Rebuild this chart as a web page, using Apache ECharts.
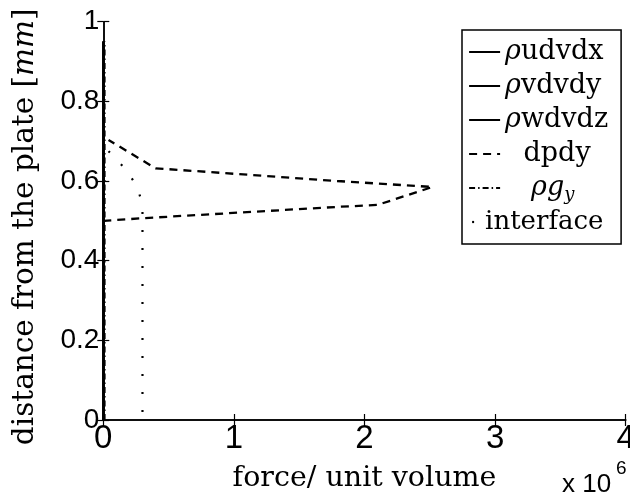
<!DOCTYPE html>
<html><head><meta charset="utf-8">
<script src="https://cdn.jsdelivr.net/npm/echarts@6/dist/echarts.min.js"></script>
<style>html,body{margin:0;padding:0;background:#fff}#c{width:630px;height:497px}</style>
</head><body><div id="c"></div>
<script>
// force per unit volume in units of 1e6, distance in mm
const xTicks = [0, 1, 2, 3, 4];
const yTicks = [0, 0.2, 0.4, 0.6, 0.8, 1];
const udvdxX = [0, 0];      const udvdxY = [0, 0.95];
const vdvdyX = [0, 0];      const vdvdyY = [0, 0.95];
const wdvdzX = [0, 0];      const wdvdzY = [0, 0.95];
const dpdyX = [0.00, 0.32, 1.79, 2.10, 2.52, 1.79, 0.40, 0.04];
const dpdyY = [0.500, 0.507, 0.535, 0.540, 0.585, 0.600, 0.632, 0.703];
const rhogX = [0.01, 0.01]; const rhogY = [0, 0.95];
const ifaceX = [0.04, 0.17, 0.26, 0.30, 0.30];
const ifaceY = [0.675, 0.630, 0.586, 0.540, 0.0];

const zip = (a, b) => a.map((v, i) => [v, b[i]]);
const SERIF = 'DejaVu Serif';
const SANS = 'Liberation Sans';

const chart = echarts.init(document.getElementById('c'), null, {renderer: 'canvas'});
const axisLine = {show: true, lineStyle: {color: '#000', width: 1.5}};
const tick = {show: true, inside: true, length: 6, lineStyle: {color: '#000', width: 1.2}};
const labelNames = {
  'ρudvdx': '{g|ρ}{r|udvdx}',
  'ρvdvdy': '{g|ρ}{r|vdvdy}',
  'ρwdvdz': '{g|ρ}{r|wdvdz}',
  'dpdy': '{c|dpdy}',
  'ρg_y': '{sp|}{g|ρg}{s|y}',
  'interface': '{it|interface}'
};
const mk = (name, x, y, ls) => ({
  name, type: 'line', data: zip(x, y), symbol: 'none', showSymbol: false,
  lineStyle: Object.assign({color: '#000', width: 2}, ls), itemStyle: {color: '#000'},
  animation: false, silent: true
});
chart.setOption({
  animation: false,
  backgroundColor: '#fff',
  grid: {left: 103.3, right: 4.3, top: 21.7, bottom: 77, containLabel: false, outerBoundsMode: 'none'},
  xAxis: [{
    type: 'value', min: xTicks[0], max: xTicks[xTicks.length - 1], interval: 1,
    axisLine, axisTick: tick, splitLine: {show: false},
    axisLabel: {fontFamily: SANS, fontSize: 33, color: '#000', margin: 2, showMaxLabel: true},
    name: 'force/ unit volume', nameLocation: 'middle', nameGap: 44,
    nameTextStyle: {fontFamily: SERIF, fontSize: 28.5, color: '#000'}
  }, {
    type: 'value', position: 'top', min: 0, max: 4, interval: 1,
    axisLine, axisTick: tick, axisLabel: {show: false}, splitLine: {show: false}
  }],
  yAxis: [{
    type: 'value', min: yTicks[0], max: yTicks[yTicks.length - 1], interval: 0.2,
    axisLine, axisTick: tick, splitLine: {show: false},
    axisLabel: {fontFamily: SANS, fontSize: 28, color: '#000', margin: 4},
    name: '{a|distance from the plate [}{b|mm}{a|]}', nameLocation: 'middle', nameGap: 63, nameRotate: 90,
    nameTextStyle: {padding: [0, 12, 0, 0], rich: {
      a: {fontFamily: SERIF, fontSize: 29.5, color: '#000'},
      b: {fontFamily: SERIF, fontSize: 29.5, fontStyle: 'italic', color: '#000'}
    }}
  }, {
    type: 'value', position: 'right', min: 0, max: 1, interval: 0.2,
    axisLine, axisTick: tick, axisLabel: {show: false}, splitLine: {show: false}
  }],
  legend: {
    orient: 'vertical', left: 462, top: 30,
    padding: [5, 12, 5, 6], itemGap: 0, itemWidth: 31, itemHeight: 14,
    backgroundColor: '#fff', borderColor: '#000', borderWidth: 1.5, borderRadius: 0,
    selectedMode: false,
    itemStyle: {opacity: 0, borderWidth: 0, color: 'rgba(0,0,0,0)'},
    data: [
      {name: 'ρudvdx'}, {name: 'ρvdvdy'}, {name: 'ρwdvdz'}, {name: 'dpdy'}, {name: 'ρg_y'},
      {name: 'interface', lineStyle: {type: [2, 40], dashOffset: -3, width: 2.2}}
    ],
    formatter: n => labelNames[n],
    textStyle: {color: '#000', lineHeight: 34, rich: {
      g: {fontFamily: SERIF, fontSize: 27, fontStyle: 'italic', color: '#000', lineHeight: 34},
      r: {fontFamily: SERIF, fontSize: 27, color: '#000', lineHeight: 34},
      c: {fontFamily: SERIF, fontSize: 27, color: '#000', width: 104, align: 'center', lineHeight: 34},
      s: {fontFamily: SERIF, fontSize: 18, fontStyle: 'italic', color: '#000', padding: [14, 0, 0, 0], lineHeight: 34},
      sp: {width: 26},
      it: {fontFamily: SERIF, fontSize: 26, color: '#000', lineHeight: 34, padding: [0, 0, 0, -20]}
    }}
  },
  graphic: [
    {type: 'text', left: 562, top: 472, style: {text: 'x 10', fontFamily: SANS, fontSize: 26, fill: '#000'}},
    {type: 'text', left: 616, top: 459, style: {text: '6', fontFamily: SANS, fontSize: 19, fill: '#000'}}
  ],
  series: [
    mk('ρudvdx', udvdxX, udvdxY, {width: 2.2}),
    mk('ρvdvdy', vdvdyX, vdvdyY, {width: 2.2}),
    mk('ρwdvdz', wdvdzX, wdvdzY, {width: 2.2}),
    mk('dpdy', dpdyX, dpdyY, {type: [8, 6], width: 2.3}),
    mk('ρg_y', rhogX, rhogY, {type: [6, 3, 1.5, 3], width: 2}),
    mk('interface', ifaceX, ifaceY, {type: [2, 16], width: 2.2})
  ]
});
</script></body></html>
